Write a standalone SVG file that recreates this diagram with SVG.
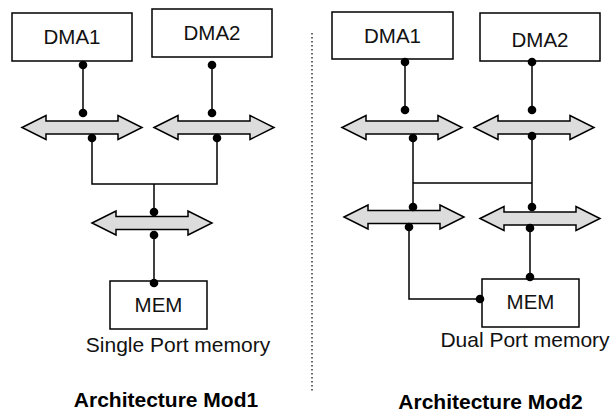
<svg xmlns="http://www.w3.org/2000/svg" xmlns:xlink="http://www.w3.org/1999/xlink" width="613" height="413" viewBox="0 0 613 413">
  <style>
    .box { fill: #ffffff; stroke: #000000; stroke-width: 1.5; }
    .bus { fill: #dcdcdc; stroke: #000000; stroke-width: 1.5; stroke-linejoin: miter; }
    .wire { fill: none; stroke: #000000; stroke-width: 1.5; }
    .dot { fill: #000000; }
    .lbl { font-family: "Liberation Sans", Arial, sans-serif; font-size: 20.5px; fill: #111111; text-anchor: middle; }
    .cap { font-family: "Liberation Sans", Arial, sans-serif; font-size: 21px; fill: #111111; text-anchor: middle; }
    .title { font-family: "Liberation Sans", Arial, sans-serif; font-size: 21px; font-weight: bold; fill: #000000; text-anchor: middle; }
    .divider { stroke: #333333; stroke-width: 1.5; stroke-dasharray: 1.5 2.5; fill: none; }
  </style>
  <defs>
    <!-- double-headed bus arrow, origin at left tip on the centre line -->
    <path id="busShape" class="bus" d="M0,0 L24,-12 L24,-6.5 L96,-6.5 L96,-12 L120,0 L96,12 L96,6.5 L24,6.5 L24,12 Z"/>
  </defs>

  <!-- separator between the two architectures -->
  <line class="divider" x1="312" y1="33" x2="312" y2="391"/>

  <!-- ===== Architecture Mod1 ===== -->
  <g id="m1-dma1">
    <rect class="box" x="12" y="13" width="120" height="48"/>
    <text class="lbl" x="72" y="44">DMA1</text>
  </g>
  <g id="m1-dma2">
    <rect class="box" x="152" y="9" width="120" height="48"/>
    <text class="lbl" x="212" y="40">DMA2</text>
  </g>
  <g id="m1-bus1"><use xlink:href="#busShape" x="22" y="127.5"/></g>
  <g id="m1-bus2"><use xlink:href="#busShape" x="154" y="127.5"/></g>
  <g id="m1-bus3"><use xlink:href="#busShape" x="92" y="223"/></g>
  <g id="m1-mem">
    <rect class="box" x="110" y="281" width="97" height="48"/>
    <text class="lbl" x="158.5" y="312">MEM</text>
  </g>
  <text class="cap" x="178" y="352">Single Port memory</text>
  <text class="title" x="166" y="407">Architecture Mod1</text>

  <!-- ===== Architecture Mod2 ===== -->
  <g id="m2-dma1">
    <rect class="box" x="332" y="12" width="121" height="47"/>
    <text class="lbl" x="392.5" y="43">DMA1</text>
  </g>
  <g id="m2-dma2">
    <rect class="box" x="480" y="13" width="120" height="48"/>
    <text class="lbl" x="540" y="47">DMA2</text>
  </g>
  <g id="m2-bus1"><use xlink:href="#busShape" x="342" y="127.5"/></g>
  <g id="m2-bus2"><use xlink:href="#busShape" x="474" y="127.5"/></g>
  <g id="m2-bus3"><use xlink:href="#busShape" x="344" y="217"/></g>
  <g id="m2-bus4"><use xlink:href="#busShape" x="480" y="218.5"/></g>
  <g id="m2-mem">
    <rect class="box" x="482" y="279" width="97" height="48"/>
    <text class="lbl" x="530.5" y="309">MEM</text>
  </g>
  <text class="cap" x="525" y="347">Dual Port memory</text>
  <text class="title" x="490.5" y="409">Architecture Mod2</text>

  <!-- connectors -->
  <g id="connectors">
    <!-- Mod1 -->
    <path class="wire" d="M83,65 V113"/>
    <path class="wire" d="M212,65 V113"/>
    <path class="wire" d="M92,138 V184 H217 V138"/>
    <path class="wire" d="M154,184 V212"/>
    <path class="wire" d="M154,235 V283"/>
    <!-- Mod2 -->
    <path class="wire" d="M405,62 V110"/>
    <path class="wire" d="M532,62 V110"/>
    <path class="wire" d="M413,138 V207"/>
    <path class="wire" d="M532,136 V207"/>
    <path class="wire" d="M413,183 H532"/>
    <path class="wire" d="M409,227 V299 H480"/>
    <path class="wire" d="M530,228 V277"/>

    <!-- port dots -->
    <g class="dot">
      <circle cx="83" cy="65" r="4.3"/>
      <circle cx="83" cy="113" r="4.3"/>
      <circle cx="212" cy="65" r="4.3"/>
      <circle cx="212" cy="113" r="4.3"/>
      <circle cx="92" cy="138" r="4.3"/>
      <circle cx="217" cy="138" r="4.3"/>
      <circle cx="154" cy="212" r="4.3"/>
      <circle cx="154" cy="235" r="4.3"/>
      <circle cx="154" cy="283" r="4.3"/>

      <circle cx="405" cy="62" r="4.3"/>
      <circle cx="405" cy="110" r="4.3"/>
      <circle cx="532" cy="62" r="4.3"/>
      <circle cx="532" cy="110" r="4.3"/>
      <circle cx="413" cy="138" r="4.3"/>
      <circle cx="532" cy="136" r="4.3"/>
      <circle cx="413" cy="207" r="4.3"/>
      <circle cx="532" cy="207" r="4.3"/>
      <circle cx="409" cy="227" r="4.3"/>
      <circle cx="530" cy="228" r="4.3"/>
      <circle cx="530" cy="277" r="4.3"/>
      <circle cx="480" cy="299" r="4.3"/>
    </g>
  </g>
</svg>
